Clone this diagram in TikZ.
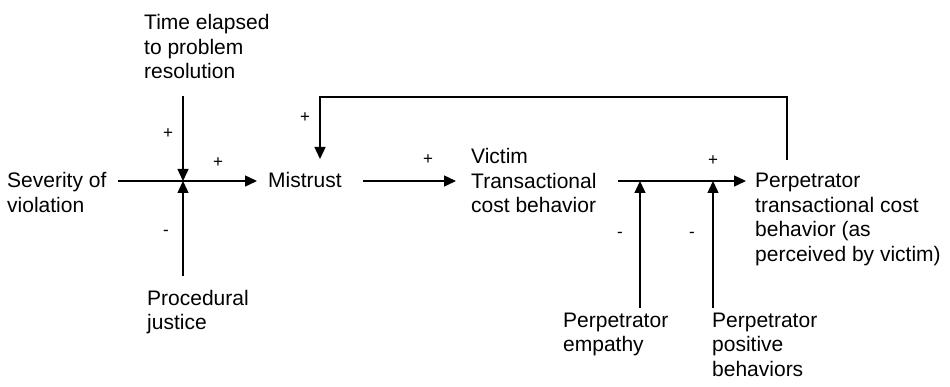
\documentclass[tikz,border=0pt]{standalone}
\usepackage{fontspec}
\setmainfont{Liberation Sans}
\usetikzlibrary{arrows.meta}
\begin{document}
\begin{tikzpicture}[x=1pt,y=-1pt,
  lbl/.style={font=\fontsize{21}{24.5}\selectfont, align=left, anchor=base west, inner sep=0pt},
  sgn/.style={font=\fontsize{17}{17}\selectfont, inner sep=0pt},
  conn/.style={line width=1.4pt, -{Triangle[length=12pt,width=11pt]}},
  plain/.style={line width=1.4pt}]
\useasboundingbox (0,0) rectangle (950,387);
% nodes (anchor at baseline of last line)
\node[lbl] (time) at (144,79) {Time elapsed\\to problem\\resolution};
\node[lbl] (sev) at (7,212.5) {Severity of\\violation};
\node[lbl] (proc) at (147,329.5) {Procedural\\justice};
\node[lbl] (mist) at (268,188) {Mistrust};
\node[lbl] (vict) at (471,213) {Victim\\Transactional\\cost behavior};
\node[lbl] (perp) at (755,261.5) {Perpetrator\\transactional cost\\behavior (as\\perceived by victim)};
\node[lbl] (emp) at (563,351.5) {Perpetrator\\empathy};
\node[lbl] (pos) at (712,376) {Perpetrator\\positive\\behaviors};
% coordinates
\coordinate (sevA) at (118,181);
\coordinate (cross) at (183,181);
\coordinate (mistIn) at (257,181);
\coordinate (timeA) at (183,96);
\coordinate (procA) at (183,276);
\coordinate (mistOut) at (363,181);
\coordinate (victIn) at (456,181);
\coordinate (victOut) at (618,181);
\coordinate (perpIn) at (746,181);
\coordinate (empA) at (640,308);
\coordinate (empB) at (640,181);
\coordinate (posA) at (713,308);
\coordinate (posB) at (713,181);
\coordinate (fbA) at (787,160);
\coordinate (fbB) at (787,97);
\coordinate (fbC) at (320,97);
\coordinate (fbD) at (320,159);
% connectors
\draw[conn] (sevA) -- (mistIn);
\draw[conn] (timeA) -- (cross);
\draw[conn] (procA) -- (cross);
\draw[conn] (mistOut) -- (victIn);
\draw[conn] (victOut) -- (perpIn);
\draw[conn] (empA) -- (empB);
\draw[conn] (posA) -- (posB);
\draw[conn] (fbA) -- (fbB) -- (fbC) -- (fbD);
% signs
\node[sgn] at (168,134) {+};
\node[sgn] at (218,163) {+};
\node[sgn] at (305,118) {+};
\node[sgn] at (428,160) {+};
\node[sgn] at (713,161) {+};
\node[sgn] at (166,233) {-};
\node[sgn] at (620,235) {-};
\node[sgn] at (692,235) {-};
\end{tikzpicture}
\end{document}
